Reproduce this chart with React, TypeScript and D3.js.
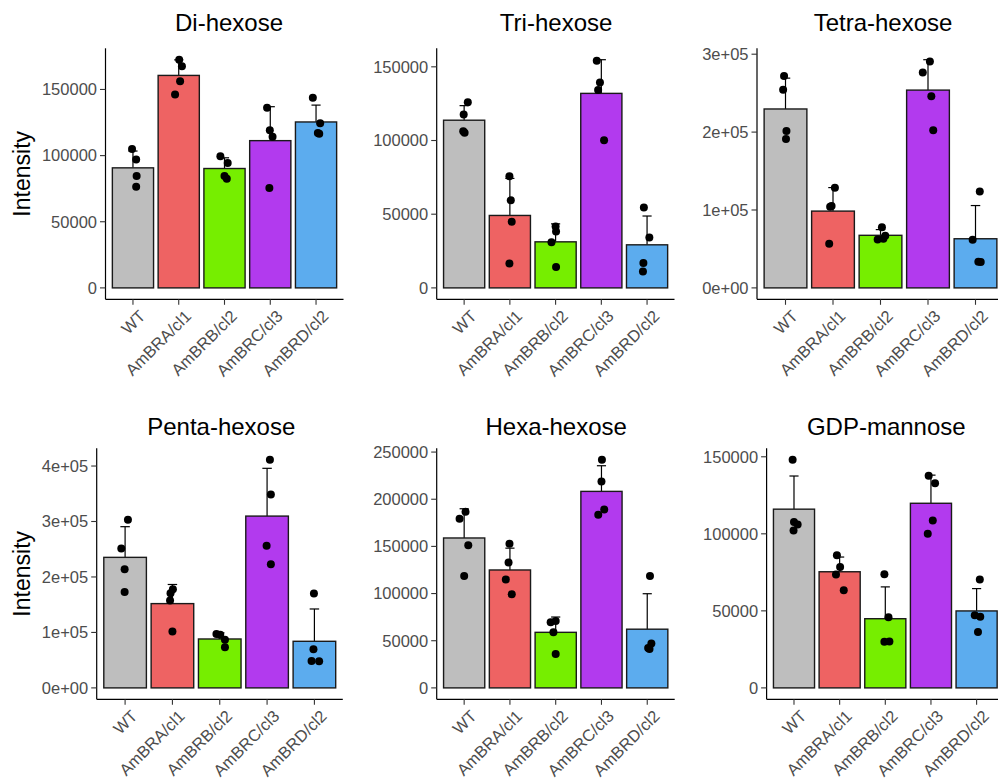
import React from "react";
import * as d3 from "d3";

// ---- data ----
const categories = ["WT", "AmBRA/cl1", "AmBRB/cl2", "AmBRC/cl3", "AmBRD/cl2"];
const barColors = ["#BEBEBE", "#EE6363", "#76EE00", "#B23AEE", "#5CACEE"];

const panelTitles = ["Di-hexose", "Tri-hexose", "Tetra-hexose", "Penta-hexose", "Hexa-hexose", "GDP-mannose"];

// replicate values per category
const diHexose = [
  [105000, 97000, 84500, 76500],
  [172500, 167500, 156250, 146250],
  [99500, 94500, 84500, 82500],
  [136250, 119250, 114250, 75500],
  [143750, 124500, 117000, 116500],
];
const triHexose = [
  [126000, 117600, 106200, 105300],
  [75800, 59400, 44800, 16600],
  [41600, 38200, 31000, 14200],
  [154100, 139400, 134300, 100100],
  [54600, 34200, 16900, 11200],
];
const tetraHexose = [
  [271900, 254500, 201300, 191000],
  [128500, 104200, 105000, 56600],
  [78000, 67000, 63000, 62000],
  [290600, 276600, 245900, 202500],
  [123800, 61700, 33600, 33200],
];
const pentaHexose = [
  [303000, 251500, 213800, 173100],
  [177800, 170700, 157500, 101800],
  [97000, 95800, 86800, 73100],
  [411400, 348500, 256300, 222800],
  [170100, 69500, 48500, 47900],
];
const hexaHexose = [
  [186700, 179300, 151200, 118500],
  [152900, 132900, 115000, 99200],
  [71000, 69600, 59100, 35900],
  [241900, 218700, 189200, 183500],
  [118500, 47100, 42200, 41100],
];
const gdpMannose = [
  [148100, 107600, 106100, 102200],
  [86100, 78500, 73600, 63300],
  [73800, 45800, 29900, 30100],
  [137700, 132800, 108700, 100100],
  [70400, 47100, 46100, 36200],
];

// horizontal jitter of each point (fraction of category step)
const diJitter = [[-0.02, 0.07, 0.08, 0.07], [0.01, 0.07, 0.03, -0.08], [-0.09, 0.07, 0.0, 0.05], [-0.07, -0.01, 0.05, -0.02], [-0.07, 0.09, 0.04, 0.07]];
const triJitter = [[0.08, -0.01, -0.02, 0.01], [-0.01, 0.02, 0.04, -0.01], [0.0, 0.01, -0.09, 0.01], [-0.1, -0.03, -0.07, 0.06], [-0.07, 0.05, -0.08, -0.09]];
const tetraJitter = [[-0.03, -0.05, 0.02, 0.01], [0.04, -0.06, -0.03, -0.08], [0.03, 0.1, 0.06, -0.06], [0.04, -0.11, 0.07, 0.11], [0.09, -0.06, 0.06, 0.11]];
const pentaJitter = [[0.06, -0.08, -0.01, -0.01], [0.01, -0.04, -0.05, 0.0], [-0.07, 0.01, 0.11, 0.11], [0.06, 0.08, -0.01, 0.08], [-0.01, -0.02, -0.06, 0.1]];
const hexaJitter = [[0.03, -0.1, 0.09, 0.0], [-0.01, -0.03, -0.09, 0.04], [0.0, -0.11, -0.05, 0.0], [0.01, 0.0, 0.06, -0.07], [0.06, 0.09, 0.02, 0.05]];
const gdpJitter = [[-0.03, 0.0, 0.08, -0.01], [-0.06, 0.01, -0.08, 0.09], [-0.02, 0.07, -0.02, 0.09], [-0.05, 0.09, 0.04, -0.07], [0.07, -0.04, 0.08, 0.03]];

// y-axis ticks
const ticksStd150 = [0, 50000, 100000, 150000];
const ticksStd150Labels = ["0", "50000", "100000", "150000"];
const ticksTetra = [0, 100000, 200000, 300000];
const ticksTetraLabels = ["0e+00", "1e+05", "2e+05", "3e+05"];
const ticksPenta = [0, 100000, 200000, 300000, 400000];
const ticksPentaLabels = ["0e+00", "1e+05", "2e+05", "3e+05", "4e+05"];
const ticksHexa = [0, 50000, 100000, 150000, 200000, 250000];
const ticksHexaLabels = ["0", "50000", "100000", "150000", "200000", "250000"];

const yAxisTitle = "Intensity";

// ---- layout ----
const W = 998;
const H = 778;
const FONT = "'Liberation Sans', Arial, Helvetica, sans-serif";

const panels = [
  { title: panelTitles[0], values: diHexose, jitter: diJitter, ticks: ticksStd150, labels: ticksStd150Labels, yTitle: true, frame: { left: 105.5, right: 343.5, top: 48.3, bottom: 299.3, titleY: 31, titleDx: 4.5 } },
  { title: panelTitles[1], values: triHexose, jitter: triJitter, ticks: ticksStd150, labels: ticksStd150Labels, yTitle: false, frame: { left: 436.7, right: 674.5, top: 48.3, bottom: 299.3, titleY: 31, titleDx: 0.5 } },
  { title: panelTitles[2], values: tetraHexose, jitter: tetraJitter, ticks: ticksTetra, labels: ticksTetraLabels, yTitle: false, frame: { left: 757, right: 1004, top: 48.3, bottom: 299.3, titleY: 31, titleDx: 2.5 } },
  { title: panelTitles[3], values: pentaHexose, jitter: pentaJitter, ticks: ticksPenta, labels: ticksPentaLabels, yTitle: true, frame: { left: 96.7, right: 342.8, top: 448.3, bottom: 699.3, titleY: 435, titleDx: 1.5 } },
  { title: panelTitles[4], values: hexaHexose, jitter: hexaJitter, ticks: ticksHexa, labels: ticksHexaLabels, yTitle: false, frame: { left: 436.7, right: 674.7, top: 448.3, bottom: 699.3, titleY: 435, titleDx: 0.5 } },
  { title: panelTitles[5], values: gdpMannose, jitter: gdpJitter, ticks: ticksStd150, labels: ticksStd150Labels, yTitle: false, frame: { left: 766.6, right: 1004, top: 448.3, bottom: 699.3, titleY: 435, titleDx: 1 } },
];

type PanelProps = (typeof panels)[number];

function Panel({ p }: { p: PanelProps }) {
  const { left, right, top, bottom, titleY, titleDx } = p.frame;
  const stats = p.values.map((vals) => {
    const mean = d3.mean(vals) as number;
    const sd = d3.deviation(vals) as number;
    return { mean, sd };
  });
  const maxVal = Math.max(
    d3.max(p.values.flat()) as number,
    d3.max(stats, (s) => s.mean + s.sd) as number
  );
  const minVal = 0;
  const span = maxVal - minVal;
  const y = d3.scaleLinear().domain([minVal - 0.05 * span, maxVal + 0.05 * span]).range([bottom, top]);
  const x = d3.scaleBand<string>().domain(categories).range([left, right]).paddingInner(0.1).paddingOuter(0.15);
  const step = x.step();
  const bw = x.bandwidth();
  const cx = (c: string) => (x(c) as number) + bw / 2;
  const capHalf = 0.1 * step;
  const tickLen = 5.5;

  return (
    <g>
      {/* title */}
      <text x={(left + right) / 2 + titleDx} y={titleY} textAnchor="middle" fontSize={24} fill="#000" fontFamily={FONT}>
        {p.title}
      </text>
      {/* error bars (upper part) */}
      {categories.map((c, i) => {
        const m = stats[i].mean;
        const t = stats[i].mean + stats[i].sd;
        return (
          <g key={"e" + i} stroke="#000" strokeWidth={1.2}>
            <line x1={cx(c)} x2={cx(c)} y1={y(m)} y2={y(t)} />
            <line x1={cx(c) - capHalf} x2={cx(c) + capHalf} y1={y(t)} y2={y(t)} />
          </g>
        );
      })}
      {/* bars */}
      {categories.map((c, i) => (
        <rect
          key={"b" + i}
          x={x(c)}
          width={bw}
          y={y(stats[i].mean)}
          height={y(0) - y(stats[i].mean)}
          fill={barColors[i]}
          stroke="#1a1a1a"
          strokeWidth={1.4}
        />
      ))}
      {/* points */}
      {categories.map((c, i) =>
        p.values[i].map((v, k) => (
          <circle key={"p" + i + "_" + k} cx={cx(c) + p.jitter[i][k] * step} cy={y(v)} r={4} fill="#000" />
        ))
      )}
      {/* axes */}
      <line x1={left} x2={left} y1={top} y2={bottom} stroke="#000" strokeWidth={1.2} />
      <line x1={left} x2={right} y1={bottom} y2={bottom} stroke="#000" strokeWidth={1.2} />
      {p.ticks.map((t, i) => (
        <g key={"yt" + i}>
          <line x1={left - tickLen} x2={left} y1={y(t)} y2={y(t)} stroke="#333" strokeWidth={1.1} />
          <text x={left - tickLen - 3} y={y(t)} dy="0.35em" textAnchor="end" fontSize={16.5} fill="#4D4D4D" fontFamily={FONT}>
            {p.labels[i]}
          </text>
        </g>
      ))}
      {categories.map((c, i) => (
        <g key={"xt" + i}>
          <line x1={cx(c)} x2={cx(c)} y1={bottom} y2={bottom + tickLen} stroke="#333" strokeWidth={1.1} />
          <text
            transform={`translate(${cx(c) + 5},${bottom + tickLen + 4}) rotate(-45)`}
            textAnchor="end"
            dy="0.72em"
            fontSize={16.5}
            fill="#4D4D4D"
            fontFamily={FONT}
          >
            {c}
          </text>
        </g>
      ))}
      {p.yTitle && (
        <text
          transform={`translate(30,${(top + bottom) / 2}) rotate(-90)`}
          textAnchor="middle"
          fontSize={23}
          fill="#000"
          fontFamily={FONT}
        >
          {yAxisTitle}
        </text>
      )}
    </g>
  );
}

export default function App() {
  return (
    <div style={{ position: "absolute", left: 0, top: 0, width: W, height: H, background: "#fff" }}>
      <svg width={W} height={H} viewBox={`0 0 ${W} ${H}`} style={{ display: "block" }}>
        <rect width={W} height={H} fill="#fff" />
        {panels.map((p, i) => (
          <Panel key={i} p={p} />
        ))}
      </svg>
    </div>
  );
}
